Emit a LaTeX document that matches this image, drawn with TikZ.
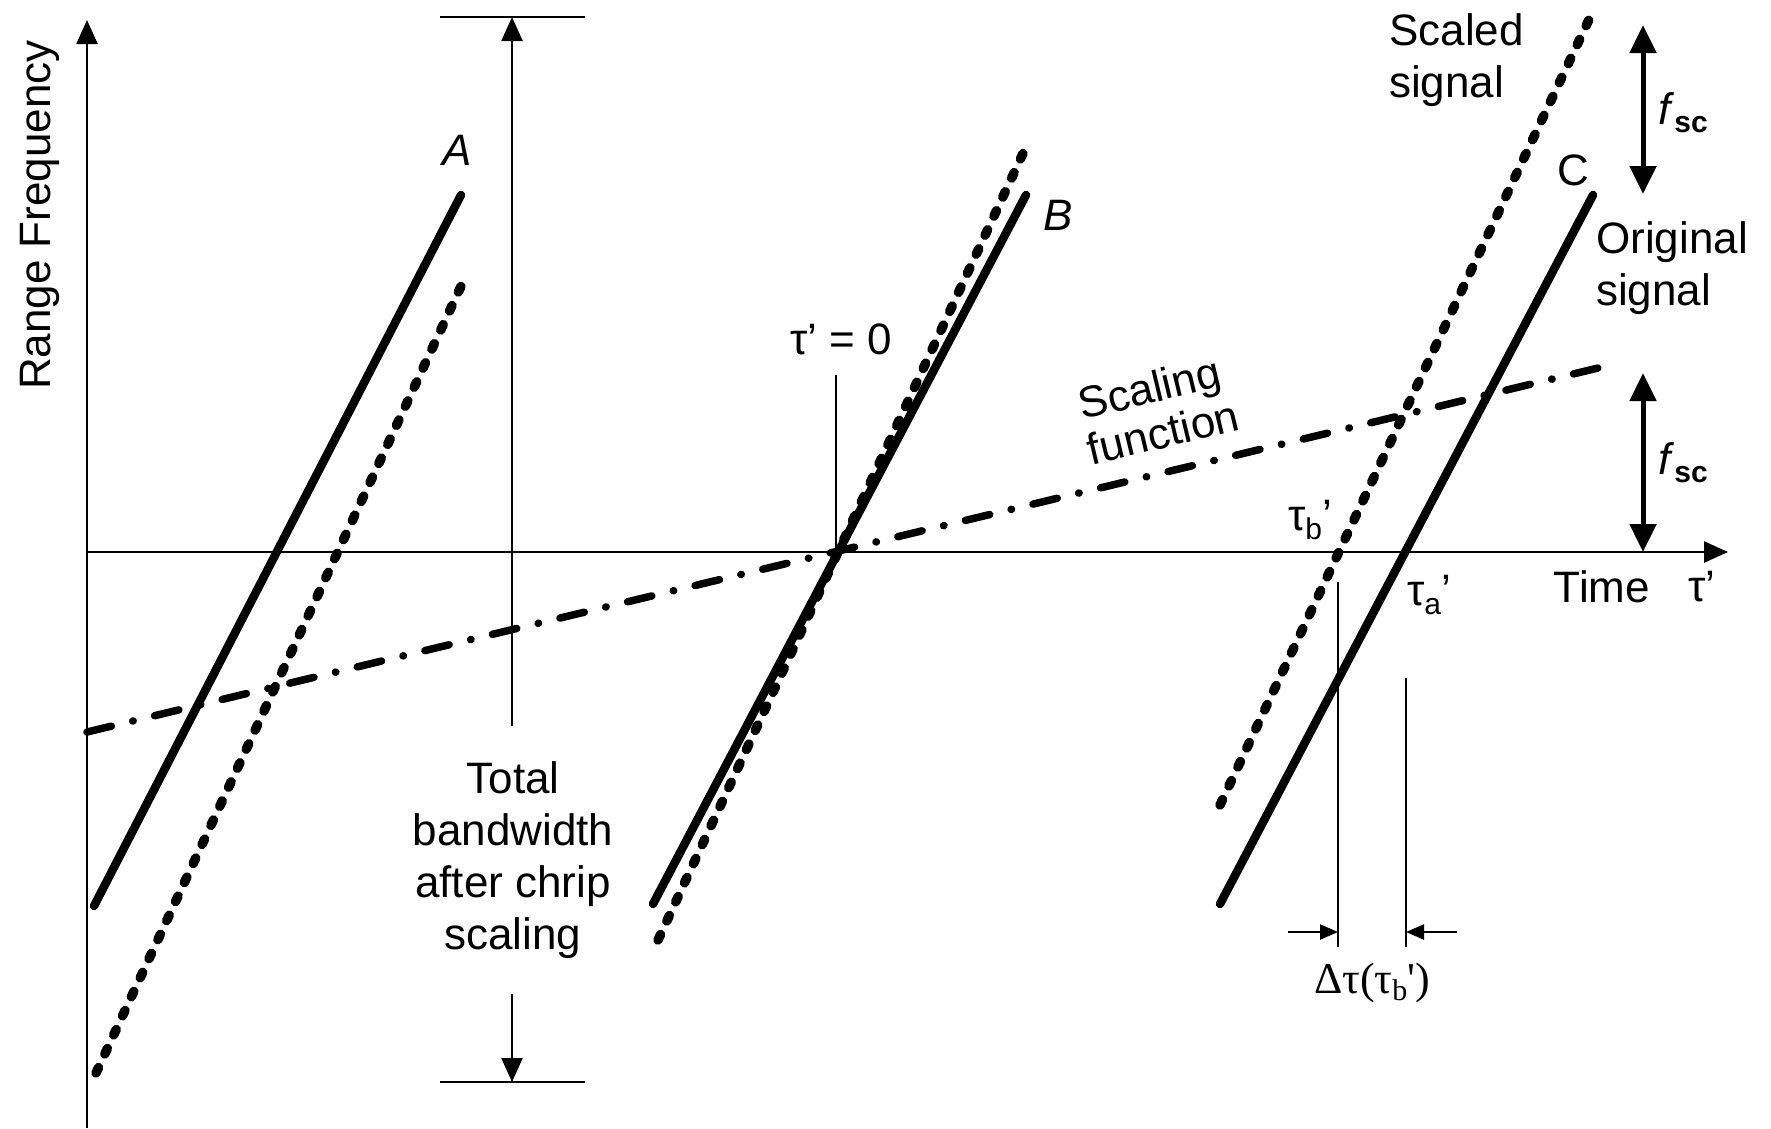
\documentclass[tikz,border=0pt]{standalone}
\usepackage{fontspec}
\setmainfont{Liberation Sans}
\newfontfamily\serifgr{Liberation Serif}
\usetikzlibrary{arrows.meta}
\newcommand{\lowr}[1]{\raisebox{-0.35ex}{\fontsize{30}{30}\selectfont #1}}
\newcommand{\lowrb}[1]{\raisebox{-0.35ex}{\fontsize{30}{30}\selectfont\bfseries #1}}
\begin{document}
\begin{tikzpicture}[x=1pt,y=-1pt,
  thinline/.style={line width=2.5pt},
  sig/.style={line width=8.5pt,line cap=round},
  scaledsig/.style={line width=9.5pt,line cap=round,dash pattern=on 6pt off 15pt},
  scalefn/.style={line width=7.5pt,line cap=round,dash pattern=on 25pt off 22pt on 0.5pt off 22pt},
  lbl/.style={font=\fontsize{44}{52}\selectfont,inner sep=0pt},
  bigtip/.style={-{Triangle[length=24pt,width=21pt]}},
  fsctip/.style={line width=5pt,{Triangle[length=28pt,width=26pt]}-{Triangle[length=28pt,width=26pt]}},
  smalltip/.style={-{Triangle[length=18pt,width=15pt]}}
]
\useasboundingbox (0,0) rectangle (1771,1128);
\fill[white] (0,0) rectangle (1771,1128);

% axes
\coordinate (ybot) at (87,1128);
\coordinate (ytop) at (87,20);
\coordinate (xl) at (87,552);
\coordinate (xr) at (1728,552);
\draw[thinline,bigtip] (ybot) -- (ytop);
\draw[thinline,bigtip] (xl) -- (xr);

% total bandwidth bars
\coordinate (bt1) at (440,17);
\coordinate (bt2) at (585,17);
\coordinate (bb1) at (440,1082);
\coordinate (bb2) at (585,1082);
\draw[thinline] (bt1) -- (bt2);
\draw[thinline] (bb1) -- (bb2);
\coordinate (bwu) at (512,726);
\coordinate (bwut) at (512,17);
\coordinate (bwl) at (512,994);
\coordinate (bwlt) at (512,1082);
\draw[thinline,bigtip] (bwu) -- (bwut);
\draw[thinline,bigtip] (bwl) -- (bwlt);
\node[lbl,align=center] (bwtext) at (513,860) {Total\\bandwidth\\after chrip\\scaling};

% scaling function
\coordinate (sf1) at (87,732);
\coordinate (sf2) at (1598,368);
\draw[scalefn] (sf1) -- (sf2);

% signal A
\coordinate (a1) at (94,906);
\coordinate (a2) at (461,195);
\coordinate (ad1) at (96,1073);
\coordinate (ad2) at (463,282);
\draw[sig] (a1) -- (a2);
\draw[scaledsig] (ad1) -- (ad2);
\node[lbl] (la) at (457,150) {\textit{A}};

% signal B
\coordinate (b1) at (653,904);
\coordinate (b2) at (1026,195);
\coordinate (bd1) at (658,940);
\coordinate (bd2) at (1026,147);
\draw[sig] (b1) -- (b2);
\draw[scaledsig] (bd1) -- (bd2);
\node[lbl] (lb) at (1058,215) {\textit{B}};

% tau'=0
\coordinate (z1) at (836,375);
\coordinate (z2) at (836,552);
\draw[thinline] (z1) -- (z2);
\node[lbl] (tz) at (841,339) {τ' = 0};

% signal C
\coordinate (c1) at (1220,904);
\coordinate (c2) at (1593,195);
\coordinate (cd1) at (1220,805);
\coordinate (cd2) at (1593,11);
\draw[sig] (c1) -- (c2);
\draw[scaledsig] (cd1) -- (cd2);
\node[lbl] (lc) at (1573,170) {C};

% labels
\node[lbl,rotate=90] (rf) at (40,215) {Range Frequency};
\node[lbl,rotate=13.5] (sfl1) at (1150,392) {Scaling};
\node[lbl,rotate=13.5] (sfl2) at (1163,432) {function};
\node[lbl,align=left,anchor=west] (ssl) at (1389,60) {Scaled\\signal};
\node[lbl,align=left,anchor=west] (osl) at (1596,268) {Original\\signal};

% f_sc arrows
\coordinate (f1a) at (1643,25);
\coordinate (f1b) at (1643,194);
\draw[fsctip] (f1a) -- (f1b);
\node[lbl] (fsc1) at (1683,113) {\textit{f}\lowrb{sc}};
\coordinate (f2a) at (1643,373);
\coordinate (f2b) at (1643,552);
\draw[fsctip] (f2a) -- (f2b);
\node[lbl] (fsc2) at (1683,463) {\textit{f}\lowrb{sc}};

% time labels
\node[lbl] (tb) at (1310,520) {τ\lowr{b}'};
\node[lbl] (ta) at (1429,595) {τ\lowr{a}'};
\node[lbl] (time) at (1602,587) {Time};
\node[lbl] (tp) at (1702,587) {τ'};

% delta tau
\coordinate (v1a) at (1338,582);
\coordinate (v1b) at (1338,947);
\coordinate (v2a) at (1406,678);
\coordinate (v2b) at (1406,947);
\draw[thinline] (v1a) -- (v1b);
\draw[thinline] (v2a) -- (v2b);
\coordinate (d1) at (1288,932);
\coordinate (d1t) at (1338,932);
\coordinate (d2) at (1457,932);
\coordinate (d2t) at (1406,932);
\draw[thinline,smalltip] (d1) -- (d1t);
\draw[thinline,smalltip] (d2) -- (d2t);
\node[lbl] (dt) at (1372,983) {\serifgr Δτ(τ\lowr{b}')};
\end{tikzpicture}
\end{document}
